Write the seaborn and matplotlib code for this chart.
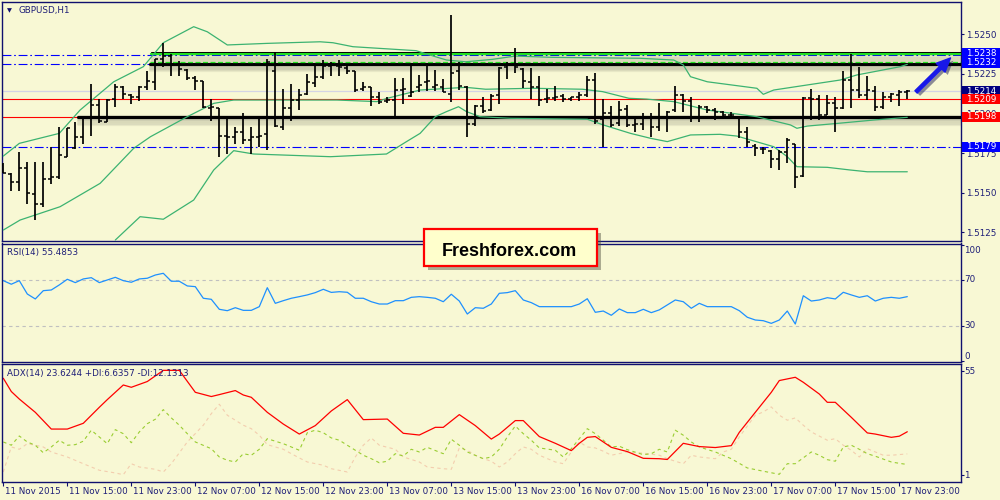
import matplotlib
matplotlib.use("Agg")
import matplotlib.pyplot as plt
import matplotlib.patheffects as pe
from matplotlib.patches import Rectangle, FancyArrowPatch
from matplotlib.transforms import IdentityTransform
import numpy as np
import seaborn as sns

sns.set_theme(style="white")
plt.rcParams["font.family"] = ["DejaVu Sans"]

BG = "#F8F8D4"
NAVY = "#10106E"
TXT = "#1E1E78"
BAND = "#3CB371"

# ---- GBPUSD H1 bars, 11 Nov 07:00 .. 18 Nov 00:00 ----
bar_high = [
    1.51687, 1.51624, 1.51757, 1.51694, 1.51694, 1.51694, 1.51788, 1.51914, 1.51908, 1.51946,
    1.51977, 1.52185, 1.52091, 1.52091, 1.52185, 1.52172, 1.52122, 1.52172, 1.52267, 1.52343,
    1.52443, 1.52374, 1.52330, 1.52280, 1.52235, 1.52204, 1.52091, 1.52034, 1.51965, 1.51914,
    1.52002, 1.51914, 1.51977, 1.52343, 1.52387, 1.52154, 1.52185, 1.52154, 1.52248, 1.52311,
    1.52336, 1.52324, 1.52336, 1.52311, 1.52267, 1.52198, 1.52166, 1.52135, 1.52103, 1.52223,
    1.52223, 1.52311, 1.52242, 1.52305, 1.52273, 1.52217, 1.52620, 1.52324, 1.52172, 1.52053,
    1.52103, 1.52122, 1.52292, 1.52324, 1.52412, 1.52286, 1.52286, 1.52235, 1.52154, 1.52172,
    1.52122, 1.52103, 1.52135, 1.52235, 1.52254, 1.52091, 1.52046, 1.52078, 1.52053, 1.51971,
    1.52002, 1.52002, 1.52065, 1.52015, 1.52172, 1.52122, 1.52103, 1.52053, 1.52046, 1.52034,
    1.52015, 1.52009, 1.51977, 1.51914, 1.51807, 1.51788, 1.51769, 1.51769, 1.51845, 1.51807,
    1.52103, 1.52154, 1.52116, 1.52116, 1.52103, 1.52267, 1.52374, 1.52292, 1.52235, 1.52172,
    1.52135, 1.52128, 1.52147, 1.52147,
]
bar_low = [
    1.51624, 1.51511, 1.51511, 1.51429, 1.51328, 1.51410, 1.51555, 1.51587, 1.51725, 1.51776,
    1.51807, 1.51857, 1.51939, 1.51946, 1.52040, 1.52091, 1.52059, 1.52078, 1.52147, 1.52147,
    1.52292, 1.52235, 1.52235, 1.52210, 1.52147, 1.52034, 1.51952, 1.51725, 1.51744, 1.51807,
    1.51807, 1.51744, 1.51788, 1.51769, 1.51914, 1.51895, 1.51952, 1.52021, 1.52116, 1.52166,
    1.52217, 1.52235, 1.52235, 1.52248, 1.52135, 1.52141, 1.52046, 1.52059, 1.52065, 1.51977,
    1.52059, 1.52103, 1.52135, 1.52141, 1.52141, 1.52135, 1.52072, 1.52147, 1.51851, 1.51920,
    1.52002, 1.52015, 1.52059, 1.52217, 1.52254, 1.52160, 1.52091, 1.52046, 1.52065, 1.52078,
    1.52072, 1.52078, 1.52078, 1.52103, 1.51933, 1.51788, 1.51914, 1.51920, 1.51914, 1.51883,
    1.51895, 1.51851, 1.51889, 1.51883, 1.52009, 1.52009, 1.51946, 1.51946, 1.52002, 1.51958,
    1.51965, 1.51965, 1.51845, 1.51788, 1.51731, 1.51744, 1.51656, 1.51643, 1.51687, 1.51530,
    1.51599, 1.51958, 1.51958, 1.51990, 1.51883, 1.52028, 1.52034, 1.52097, 1.52084, 1.52015,
    1.52028, 1.52072, 1.52046, 1.52091,
]
bar_open = [
    1.51675, 1.51618, 1.51568, 1.51656, 1.51492, 1.51429, 1.51587, 1.51599, 1.51725, 1.51782,
    1.51851, 1.51977, 1.52053, 1.51946, 1.52091, 1.52166, 1.52116, 1.52103, 1.52166, 1.52198,
    1.52343, 1.52361, 1.52311, 1.52273, 1.52223, 1.52204, 1.52034, 1.52034, 1.51857, 1.51851,
    1.51883, 1.51832, 1.51851, 1.51870, 1.52267, 1.51914, 1.52034, 1.52084, 1.52122, 1.52191,
    1.52229, 1.52298, 1.52298, 1.52286, 1.52267, 1.52154, 1.52166, 1.52103, 1.52078, 1.52084,
    1.52147, 1.52109, 1.52166, 1.52198, 1.52166, 1.52166, 1.52122, 1.52267, 1.52166, 1.51933,
    1.52046, 1.52021, 1.52116, 1.52292, 1.52311, 1.52280, 1.52198, 1.52166, 1.52091, 1.52097,
    1.52109, 1.52091, 1.52103, 1.52116, 1.52210, 1.51965, 1.52002, 1.51939, 1.52028, 1.51927,
    1.51933, 1.51977, 1.51914, 1.51971, 1.52021, 1.52116, 1.52078, 1.51977, 1.52040, 1.52021,
    1.52009, 1.51990, 1.51971, 1.51883, 1.51794, 1.51776, 1.51763, 1.51713, 1.51757, 1.51807,
    1.51605, 1.52097, 1.52091, 1.51990, 1.52065, 1.52034, 1.52210, 1.52147, 1.52116, 1.52141,
    1.52040, 1.52103, 1.52116, 1.52135,
]
bar_close = [
    1.51624, 1.51568, 1.51656, 1.51498, 1.51429, 1.51587, 1.51599, 1.51738, 1.51908, 1.51851,
    1.51977, 1.52053, 1.51952, 1.52084, 1.52166, 1.52122, 1.52103, 1.52166, 1.52204, 1.52343,
    1.52361, 1.52311, 1.52280, 1.52223, 1.52204, 1.52040, 1.52040, 1.51857, 1.51851, 1.51883,
    1.51832, 1.51851, 1.51857, 1.52324, 1.51920, 1.52034, 1.52084, 1.52116, 1.52198, 1.52229,
    1.52298, 1.52311, 1.52292, 1.52267, 1.52147, 1.52166, 1.52103, 1.52072, 1.52084, 1.52147,
    1.52154, 1.52135, 1.52179, 1.52204, 1.52179, 1.52135, 1.52254, 1.52172, 1.51933, 1.52046,
    1.52015, 1.52109, 1.52286, 1.52311, 1.52292, 1.52204, 1.52166, 1.52084, 1.52097, 1.52103,
    1.52091, 1.52103, 1.52116, 1.52210, 1.51952, 1.52002, 1.51927, 1.52021, 1.51927, 1.51933,
    1.51971, 1.51914, 1.51971, 1.52009, 1.52116, 1.52078, 1.51971, 1.52040, 1.52021, 1.52009,
    1.51990, 1.51990, 1.51883, 1.51820, 1.51782, 1.51776, 1.51713, 1.51757, 1.51832, 1.51599,
    1.52097, 1.52091, 1.51990, 1.52065, 1.52034, 1.52210, 1.52147, 1.52116, 1.52147, 1.52040,
    1.52103, 1.52122, 1.52135, 1.52140,
]

# Bollinger bands, vertices (bar index, price)
bb_up_x = [0, 2, 7, 9.6, 13.8, 17.5, 20, 23.8, 25.5, 28, 33, 39.6, 41.2, 43.7, 51.6, 52.9, 55.4,
           57.8, 61.1, 64, 68.6, 79.6, 83.8, 85, 85.9, 88, 94.2, 95, 96.3, 100.5, 104.6, 106.7,
           112.1, 113]
bb_up_y = [1.51731, 1.51811, 1.51874, 1.52021, 1.52199, 1.52294, 1.52445, 1.52546, 1.52514,
           1.52431, 1.52441, 1.52451, 1.52445, 1.52420, 1.52395, 1.52374, 1.52336, 1.52325,
           1.52340, 1.52361, 1.52353, 1.52347, 1.52336, 1.52305, 1.52231, 1.52199, 1.52158,
           1.52120, 1.52147, 1.52179, 1.52210, 1.52242, 1.52294, 1.52309]
bb_mid_x = [0, 2.1, 7.1, 12.1, 16.3, 18.4, 23, 26.3, 28.8, 39.6, 41.7, 46.7, 48, 52.1, 57.8, 60.3,
            66.2, 72.4, 74.9, 78.2, 80.4, 83.8, 88, 94.2, 98.4, 99.2, 100.5, 104.3, 108.8, 113]
bb_mid_y = [1.51265, 1.51328, 1.51412, 1.51559, 1.51780, 1.51853, 1.51979, 1.52063, 1.52084,
            1.52084, 1.52084, 1.52074, 1.52095, 1.52147, 1.52164, 1.52152, 1.52158, 1.52152,
            1.52137, 1.52095, 1.52090, 1.52074, 1.52021, 1.51979, 1.51927, 1.51906, 1.51920,
            1.51937, 1.51958, 1.51975]
bb_low_x = [14, 17.1, 20, 23.8, 26.3, 28.8, 31.3, 40.9, 47.9, 50.4, 52.1, 54, 55.4, 56.9, 57.9,
            59.6, 63.4, 73, 75, 78.4, 80.9, 83, 85.9, 89.6, 91.7, 96.3, 98, 99.2, 103, 105.9, 108,
            113]
bb_low_y = [1.51202, 1.51349, 1.51333, 1.51454, 1.51643, 1.51765, 1.51744, 1.51727, 1.51744,
            1.51822, 1.51874, 1.51979, 1.52011, 1.52042, 1.52011, 1.51979, 1.51969, 1.51963,
            1.51927, 1.51874, 1.51843, 1.51822, 1.51864, 1.51868, 1.51857, 1.51790, 1.51727,
            1.51664, 1.51660, 1.51643, 1.51632, 1.51632]

# RSI(14)
rsi_x = list(range(0, 68)) + list(range(71, 89)) + list(range(91, 114))
rsi_y = [69.4, 66.3, 69.4, 57.8, 53.5, 60.7, 61.3, 65.7, 70.6, 67.7,
         70.9, 72.0, 67.7, 70.0, 72.3, 69.4, 68.0, 70.9, 71.5, 74.3,
         75.8, 68.9, 68.9, 64.8, 64.2, 54.1, 53.2, 44.5, 43.3, 45.9,
         43.6, 43.6, 46.8, 63.3, 49.7, 52.0, 54.1, 55.5, 57.0, 59.0, 61.9,
         59.2, 59.8, 59.3, 54.1, 54.1, 51.1, 49.1, 49.1, 52.0, 52.0,
         54.9, 55.5, 54.9, 54.1, 51.1, 57.6, 51.7, 40.4, 45.9, 45.4,
         49.1, 58.4, 59.0, 60.7, 52.6, 50.3, 46.8,
         46.8, 49.1, 53.7, 41.9, 43.0, 39.3, 44.8, 41.6, 41.6, 44.5,
         41.6, 44.0, 48.3, 52.6, 51.1, 45.4, 49.7, 46.8,
         46.8, 43.3, 37.6, 35.2, 34.6, 32.3, 35.2, 43.0, 31.7, 56.3,
         51.7, 52.6, 54.6, 53.5, 59.3, 57.0, 54.9, 56.3, 51.7, 54.1,
         54.9, 54.1, 55.5]

# ADX(14) with +DI / -DI
adx_x = [0, 1, 2, 4, 6, 8, 10, 12, 13, 15, 16, 18, 20, 22, 24, 26, 27, 29, 30, 31,
         33, 35, 37, 39, 41, 43, 45, 48, 50, 52, 54, 55, 57, 59, 61, 62, 64, 65, 67, 69,
         71, 72, 73, 74, 76, 78, 80, 82, 83, 85, 87, 89, 91, 92, 94, 96, 97, 99, 100, 102,
         103, 104, 106, 108, 109, 111, 112, 113]
adx_y = [51.4, 44.5, 40.6, 33.7, 25.0, 25.0, 28.0, 36.3, 40.3, 47.9, 46.7, 49.7, 55.5, 55.5,
         44.1, 41.9, 42.9, 45.0, 42.7, 41.5, 33.7, 27.6, 22.4, 26.8, 34.4, 40.3, 29.9, 30.2,
         22.8, 21.9, 25.9, 25.9, 32.5, 26.8, 19.8, 22.4, 29.4, 29.4, 21.1, 17.6, 13.8, 17.6,
         20.7, 21.1, 15.5, 13.3, 9.8, 9.6, 9.2, 17.6, 15.9, 15.4, 16.4, 23.3, 33.7, 44.1, 50.2,
         51.9, 49.3, 43.2, 38.9, 38.9, 31.1, 23.0, 22.4, 20.7, 21.3, 23.6]
pdi_x = list(range(0, 25)) + [26, 27, 28, 29, 30, 31, 32, 33, 35, 36, 37, 38, 39, 40, 41, 42,
                              44, 45, 46, 47, 48, 49, 50, 51, 52, 53, 55, 56, 57, 58, 60, 61,
                              62, 63, 64, 65, 66, 67, 69, 70, 71, 73, 74, 75, 76, 77, 78, 80,
                              81, 82, 83, 84, 85, 86, 87, 89, 91, 93, 95, 97, 98, 99, 101, 102,
                              103, 104, 105, 106, 107, 108, 109, 111, 112, 113]
pdi_y = [18.3, 16.6, 21.4, 18.3, 16.6, 12.7, 15.7, 19.2, 16.6, 16.9, 18.7, 24.4, 20.9, 17.4,
         24.7, 22.6, 17.9, 23.5, 27.8, 30.1, 35.1, 30.8, 27.0, 22.6, 18.3,
         14.8, 10.5, 8.8, 7.9, 12.2, 11.4, 14.5, 20.0, 17.4, 15.7, 14.0, 23.1, 24.4, 23.1, 20.4,
         19.2, 14.0, 11.4, 9.6, 7.5, 8.3, 12.2, 11.0, 14.5, 13.1, 15.5, 12.2, 19.7, 16.6, 13.1,
         9.6, 10.5, 14.5, 20.9, 26.6, 22.6, 19.2, 15.2, 14.0, 10.5, 14.8, 25.2, 22.6, 19.2, 15.7,
         16.1, 14.3, 11.7, 12.2, 14.5, 13.1, 24.4, 21.8, 18.3, 15.7, 13.1, 9.6, 4.8, 3.1, 1.5,
         7.0, 7.0, 13.1, 11.4, 9.1, 8.3, 15.7, 16.6, 14.5, 12.2, 10.9, 7.9, 7.2, 6.6]
mdi_x = [0, 1, 2, 3, 4, 5, 6, 8, 10, 12, 14, 15, 16, 17, 19, 20, 21, 23, 25, 26,
         27, 28, 30, 31, 32, 33, 35, 36, 37, 38, 40, 41, 43, 44, 45, 46, 47, 49, 50, 52,
         53, 55, 56, 57, 58, 59, 60, 61, 62, 63, 64, 65, 66, 67, 69, 70, 71, 72, 73, 74,
         75, 76, 78, 80, 82, 83, 85, 86, 87, 89, 90, 91, 92, 94, 95, 96, 97, 98, 99, 100,
         101, 103, 104, 105, 106, 107, 108, 110, 111, 113]
mdi_y = [2.7, 15.7, 14.5, 17.4, 16.6, 15.7, 13.1, 10.5, 7.0, 3.6, 2.2, 1.3, 7.0, 5.3, 4.1, 2.7,
         7.0, 18.3, 27.0, 33.0, 37.9, 32.2, 27.0, 25.2, 21.8, 16.9, 14.5, 12.2, 10.0, 7.9, 6.2,
         4.4, 2.7, 10.5, 16.6, 20.4, 16.6, 14.5, 10.5, 7.9, 5.3, 4.4, 4.1, 15.2, 14.0, 11.4, 9.6,
         8.3, 5.3, 7.9, 12.2, 15.7, 14.5, 11.4, 7.9, 7.0, 13.1, 18.3, 15.7, 15.2, 13.5, 11.4,
         13.1, 12.5, 11.4, 9.6, 7.0, 11.4, 10.5, 9.6, 13.1, 14.5, 20.9, 32.2, 33.9, 36.5, 32.2,
         29.6, 30.8, 27.0, 23.5, 19.2, 20.0, 16.6, 14.0, 10.5, 14.8, 11.4, 11.4, 12.1]

# drawn objects / levels
dashdot_levels = [1.52366, 1.52310, 1.51788]
red_levels = [1.5209, 1.5198]
bid_level = 1.5214
resist_level, resist_start = 1.52372, 18.5
mid_level, mid_start = 1.52314, 18.3
support_level, support_start = 1.51977, 9.3

price_ticks = [1.5125, 1.5150, 1.5175, 1.5200, 1.5225, 1.5250]
price_tags = [(1.5238, "#0000FF"), (1.5232, "#0000FF"), (1.5214, "#000080"),
              (1.5209, "#FF0000"), (1.5198, "#FF0000"), (1.5179, "#0000FF")]

xtick_bars = [0, 8, 16, 24, 32, 40, 48, 56, 64, 72, 80, 88, 96, 104, 112]
xtick_labels = ["11 Nov 2015", "11 Nov 15:00", "11 Nov 23:00", "12 Nov 07:00", "12 Nov 15:00",
                "12 Nov 23:00", "13 Nov 07:00", "13 Nov 15:00", "13 Nov 23:00", "16 Nov 07:00",
                "16 Nov 15:00", "16 Nov 23:00", "17 Nov 07:00", "17 Nov 15:00", "17 Nov 23:00"]

FS = 6.3
XMIN, XMAX = -0.125, 119.675

fig = plt.figure(figsize=(10, 5), dpi=100, facecolor=BG)
ax = fig.add_axes([0.0023, 0.518, 0.9584, 0.4786])
ax_rsi = fig.add_axes([0.0023, 0.276, 0.9584, 0.237])
ax_adx = fig.add_axes([0.0023, 0.036, 0.9584, 0.236])

for a in (ax, ax_rsi, ax_adx):
    a.set_facecolor(BG)
    for s in a.spines.values():
        s.set_color(NAVY)
        s.set_linewidth(1.0)
    a.grid(False)


def shadow_fx(alpha=0.07):
    fx = [pe.SimpleLineShadow(offset=(0.5, -k), shadow_color="#303030", alpha=alpha)
          for k in (-0.8, 0.8, 1.6, 2.4, 3.2, 4.0, 4.8)]
    return fx + [pe.Normal()]


# ---- main price panel ----
for lvl in dashdot_levels:
    ax.axhline(lvl, color="#0000FF", lw=0.8, ls=(0, (8, 2.5, 1.5, 2.5)), zorder=2)
ax.axhline(bid_level, color="#D4D4E4", lw=0.9, zorder=1)
for lvl in red_levels:
    ax.axhline(lvl, color="#FF0000", lw=0.8, zorder=2)

ax.plot([resist_start, 130], [resist_level, resist_level], color="#22E022", lw=1.7,
        zorder=3, path_effects=shadow_fx())
ax.plot([resist_start, 130], [resist_level + 0.00012, resist_level + 0.00012],
        color="black", lw=0.7, zorder=3)
ax.plot([mid_start, 130], [mid_level, mid_level], color="black", lw=2.3, zorder=3,
        path_effects=shadow_fx())
ax.plot([mid_start, 130], [mid_level + 0.00008, mid_level + 0.00008], color="#22E022",
        lw=0.9, ls=(0, (4, 2)), zorder=3)
ax.plot([support_start, 130], [support_level, support_level], color="black", lw=2.3,
        zorder=3, path_effects=shadow_fx())

for bx, by in ((bb_up_x, bb_up_y), (bb_mid_x, bb_mid_y), (bb_low_x, bb_low_y)):
    sns.lineplot(x=bx, y=by, ax=ax, color=BAND, linewidth=0.9, sort=False,
                 estimator=None, zorder=3)

bars = np.arange(len(bar_close))
ax.vlines(bars, bar_low, bar_high, colors="black", lw=1.25, zorder=4)
ax.hlines(bar_open, bars - 0.38, bars, colors="black", lw=1.1, zorder=4)
ax.hlines(bar_close, bars, bars + 0.38, colors="black", lw=1.1, zorder=4)

ax.set_xlim(XMIN, XMAX)
ax.set_ylim(1.511959, 1.527035)
ax.set_yticks(price_ticks)
ax.set_yticklabels([f"{p:.4f}" for p in price_ticks])
ax.set_xticks([])
ax.yaxis.tick_right()
ax.tick_params(axis="y", right=True, left=False, length=2.5, width=0.8, colors=NAVY,
               labelcolor=TXT, labelsize=FS, pad=1.5)
ax.set_xlabel("")
ax.set_ylabel("")

arrow = FancyArrowPatch((114.1, 1.52135), (118.4, 1.52349),
                        arrowstyle="simple,head_length=10,head_width=9,tail_width=2.4",
                        mutation_scale=1, color="#1818E8", shrinkA=0, shrinkB=0,
                        clip_on=False, zorder=6,
                        path_effects=[pe.SimplePatchShadow(offset=(2, -2), alpha=0.45),
                                      pe.Normal()])
ax.add_patch(arrow)

# ---- RSI panel ----
ax_rsi.axhline(70, color="#C0C0C0", lw=0.8, ls=(0, (3, 3)))
ax_rsi.axhline(30, color="#C0C0C0", lw=0.8, ls=(0, (3, 3)))
sns.lineplot(x=rsi_x, y=rsi_y, ax=ax_rsi, color="#1E90FF", linewidth=0.9, sort=False,
             estimator=None)
ax_rsi.set_xlim(XMIN, XMAX)
ax_rsi.set_ylim(-1.3, 101.7)
ax_rsi.set_xticks([])
ax_rsi.set_yticks([0, 30, 70, 100])
ax_rsi.yaxis.tick_right()
ax_rsi.tick_params(axis="y", right=True, left=False, length=2.5, width=0.8, colors=NAVY,
                   labelright=False)
for val, dy in ((100, -3.5), (70, 0), (30, 0), (0, 3.2)):
    ax_rsi.annotate(str(val), xy=(1, val), xycoords=ax_rsi.get_yaxis_transform(),
                    xytext=(2.6, dy), textcoords="offset points", va="center", ha="left",
                    fontsize=FS, color=TXT, annotation_clip=False)
ax_rsi.set_xlabel("")
ax_rsi.set_ylabel("")

# ---- ADX panel ----
ax_adx.plot(mdi_x, mdi_y, color="#F3CDAE", lw=0.8, ls=(0, (3, 3)))
ax_adx.plot(pdi_x, pdi_y, color="#9ACD32", lw=0.8, ls=(0, (3, 3)))
sns.lineplot(x=adx_x, y=adx_y, ax=ax_adx, color="#FF0000", linewidth=0.9, sort=False,
             estimator=None)
ax_adx.set_xlim(XMIN, XMAX)
ax_adx.set_ylim(-2.5, 58.8)
ax_adx.set_yticks([1, 55])
ax_adx.yaxis.tick_right()
ax_adx.tick_params(axis="y", right=True, left=False, length=2.5, width=0.8, colors=NAVY,
                   labelright=False)
for val in (55, 1):
    ax_adx.annotate(str(val), xy=(1, val), xycoords=ax_adx.get_yaxis_transform(),
                    xytext=(2.6, 0), textcoords="offset points", va="center", ha="left",
                    fontsize=FS, color=TXT, annotation_clip=False)
ax_adx.set_xticks(xtick_bars)
ax_adx.set_xticklabels([])
ax_adx.tick_params(axis="x", bottom=True, length=3, width=0.8, colors=NAVY, direction="out")
for b, lbl in zip(xtick_bars, xtick_labels):
    ax_adx.annotate(lbl, xy=(b, 0), xycoords=ax_adx.get_xaxis_transform(),
                    xytext=(1.0, -6.6), textcoords="offset points", ha="left", va="center",
                    fontsize=FS, color=TXT, annotation_clip=False)
ax_adx.set_xlabel("")
ax_adx.set_ylabel("")

# ---- panel captions ----
fig.text(0.0068, 1 - 10.5 / 500, "\u25bc", fontsize=4.6, color=NAVY, va="center")
fig.text(0.0183, 1 - 10.5 / 500, "GBPUSD,H1", fontsize=FS, color=TXT, va="center")
fig.text(0.0073, 1 - 252.7 / 500, "RSI(14) 55.4853", fontsize=FS, color=TXT, va="center")
fig.text(0.0073, 1 - 373.7 / 500, "ADX(14) 23.6244 +DI:6.6357 -DI:12.1313", fontsize=FS,
         color=TXT, va="center")

# ---- price tags on the right scale ----
ident = IdentityTransform()
for price, col in price_tags:
    ypix = ax.transData.transform((0, price))[1]
    fig.add_artist(Rectangle((962, ypix - 5), 38, 10, transform=ident, facecolor=col,
                             edgecolor="none", zorder=5))
    fig.text(966, ypix, f"{price:.4f}", transform=ident, fontsize=FS, color="white",
             va="center", ha="left", zorder=6)

# ---- watermark box ----
fig.add_artist(Rectangle((424, 500 - 266), 173, 37, transform=ident, facecolor="#FFFFCC",
                         edgecolor="#FF0000", lw=1.6, zorder=7,
                         path_effects=[pe.SimplePatchShadow(offset=(3, -3), alpha=0.45),
                                       pe.Normal()]))
fig.text(509.7, 500 - 256.5, "Freshforex.com", transform=ident, ha="center", va="baseline",
         fontsize=13, fontweight="bold", family=["Liberation Sans", "DejaVu Sans"],
         color="black", zorder=8)

fig.savefig("out.png", dpi=100, facecolor=BG)
plt.close(fig)
